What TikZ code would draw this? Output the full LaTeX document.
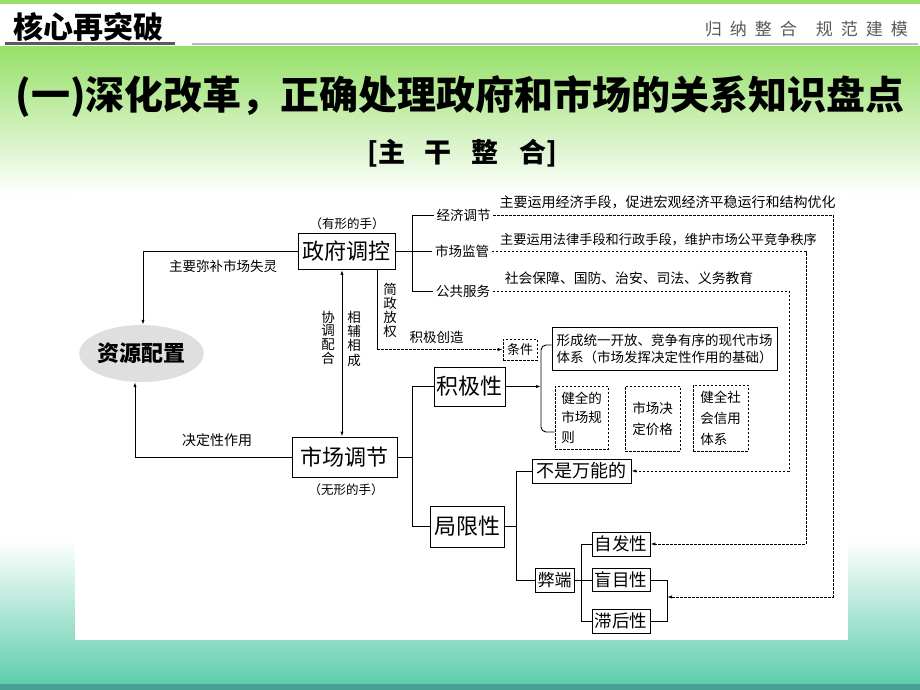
\documentclass[tikz,border=0pt]{standalone}
\usepackage{fontspec}
\setmainfont{Noto Sans CJK SC}
\usetikzlibrary{arrows.meta,shapes.geometric,calc}
\newcommand{\myfs}[2]{\fontsize{#1}{#2}\selectfont}
\definecolor{topgreen}{RGB}{150,224,105}
\definecolor{botteal}{RGB}{95,205,172}
\definecolor{darkteal}{RGB}{70,160,150}
\definecolor{hdrgray}{RGB}{90,90,90}
\begin{document}
\begin{tikzpicture}[x=1pt,y=-1pt,
  sbox/.style={draw=black, line width=0.9pt, inner sep=0pt, align=center, fill=white},
  dbox/.style={draw=black, line width=0.8pt, dash pattern=on 2.5pt off 1.5pt, inner sep=0pt, align=left},
  lbl/.style={inner sep=0pt, font=\myfs{13.5}{14}},
  ln/.style={line width=0.9pt},
  dln/.style={line width=0.8pt, dash pattern=on 2.5pt off 1.5pt},
  arr/.style={-{Latex[length=5pt,width=3.2pt]}},
  arrb/.style={{Latex[length=5pt,width=3.2pt]}-{Latex[length=5pt,width=3.2pt]}}]
\useasboundingbox (0,0) rectangle (920,690);
% background
\fill[white] (0,0) rectangle (920,690);
\shade[top color=topgreen, middle color=topgreen!45, bottom color=white] (0,47) rectangle (920,195);
\shade[top color=white, bottom color=botteal] (0,540) rectangle (920,684);
\fill[topgreen] (0,0) rectangle (920,4);
\fill[darkteal] (0,684) rectangle (920,690);
\fill[white] (75,190) rectangle (848,640);
% header
\node[anchor=west, inner sep=0pt, font=\bfseries\myfs{30}{30}] (hdr) at (13,27) {核心再突破};
\draw[line width=3pt, hdrgray] (5,44) -- (175,44);
\draw[line width=2pt, gray!55] (192,44) -- (918,44);
\node[anchor=east, inner sep=0pt, text=hdrgray, font=\myfs{17}{17}] (sub) at (908,29) {归\hspace{8pt}纳\hspace{8pt}整\hspace{8pt}合\hspace{19pt}规\hspace{8pt}范\hspace{8pt}建\hspace{8pt}模};
\node[inner sep=0pt, font=\bfseries\myfs{39}{39}] (title) at (460,97) {(一)深化改革，正确处理政府和市场的关系知识盘点};
\node[inner sep=0pt, font=\bfseries\myfs{27}{27}] (zgzh) at (462,153) {[主\hspace{20pt}干\hspace{20pt}整\hspace{20pt}合]};
% nodes
\node[ellipse, fill=gray!25, minimum width=121pt, minimum height=57pt, inner sep=0pt, font=\bfseries\myfs{22}{22}] (res) at (141.5,353.5) {资源配置};
\node[sbox, minimum width=97pt, minimum height=36pt, font=\myfs{22}{22}] (gov) at (346.5,251.5) {政府调控};
\node[lbl, font=\myfs{12.5}{13}] (govh) at (347,224) {（有形的手）};
\node[sbox, minimum width=105pt, minimum height=40pt, font=\myfs{22}{22}] (mkt) at (344.5,457) {市场调节};
\node[lbl, font=\myfs{12.5}{13}] (mkth) at (346,490) {（无形的手）};
\node[lbl] (l1) at (223,266) {主要弥补市场失灵};
\node[lbl, font=\myfs{14}{14}] (l2) at (217,440) {决定性作用};
\node[lbl, align=center, font=\myfs{13.5}{13.7}] (xt) at (328,337.5) {协\\调\\配\\合};
\node[lbl, align=center, font=\myfs{13.5}{14.3}] (xf) at (354,338.5) {相\\辅\\相\\成};
\node[lbl, align=center, font=\myfs{13.5}{14}] (jz) at (390,310) {简\\政\\放\\权};
\node[lbl] (jjcz) at (436.5,337) {积极创造};
\node[dbox, minimum width=34pt, minimum height=21pt, font=\myfs{13}{13}] (cond) at (520,349.5) {条件};
\node[lbl, inner sep=2.5pt] (jjtj) at (463.5,215) {经济调节};
\node[lbl, inner sep=2.5pt] (scjg) at (462,251.5) {市场监管};
\node[lbl, inner sep=2.5pt] (ggfw) at (463,291) {公共服务};
\node[lbl, font=\myfs{14}{14}] (t1) at (667.5,202) {主要运用经济手段，促进宏观经济平稳运行和结构优化};
\node[lbl, font=\myfs{13.2}{14}] (t2) at (658.5,240) {主要运用法律手段和行政手段，维护市场公平竞争秩序};
\node[lbl, font=\myfs{13.8}{14}] (t3) at (629,278) {社会保障、国防、治安、司法、义务教育};
\node[sbox, minimum width=71pt, minimum height=39pt, font=\myfs{22}{22}] (jjx) at (469.5,386.5) {积极性};
\node[sbox, minimum width=74pt, minimum height=41pt, font=\myfs{22}{22}] (jxx) at (467,526.5) {局限性};
\node[sbox, minimum width=225pt, minimum height=43pt, font=\myfs{13.5}{17}] (big) at (664.5,348.5) {形成统一开放、竞争有序的现代市场\\体系（市场发挥决定性作用的基础）};
\node[dbox, minimum width=53pt, minimum height=63pt, font=\myfs{13.5}{19.5}] (rule) at (581.5,417.5) {健全的\\市场规\\则};
\node[dbox, minimum width=55pt, minimum height=65pt, font=\myfs{13.5}{21}] (price) at (652.5,418.5) {市场决\\定价格};
\node[dbox, minimum width=55pt, minimum height=66pt, font=\myfs{13.5}{21}] (credit) at (720.5,418) {健全社\\会信用\\体系};
\node[sbox, minimum width=99pt, minimum height=24pt, font=\myfs{18}{18}] (bnwn) at (581.5,471) {不是万能的};
\node[sbox, minimum width=39pt, minimum height=24pt, font=\myfs{17}{17}] (bd) at (554.5,580) {弊端};
\node[sbox, minimum width=58pt, minimum height=24pt, font=\myfs{17.5}{17.5}] (zfx) at (621,544) {自发性};
\node[sbox, minimum width=58pt, minimum height=23pt, font=\myfs{17.5}{17.5}] (mmx) at (621,580) {盲目性};
\node[sbox, minimum width=58pt, minimum height=24pt, font=\myfs{17.5}{17.5}] (zhx) at (621,621) {滞后性};
% coordinates
\coordinate (gbr) at (412,0);
\coordinate (jzx) at (377,0);
\coordinate (dbl) at (342,0);
\coordinate (mbr) at (412,0);
\coordinate (kbr) at (541,0);
\coordinate (lbr) at (516,0);
\coordinate (bbr) at (581,0);
\coordinate (rbr) at (667,0);
\coordinate (d1) at (833,0);
\coordinate (d2) at (806,0);
\coordinate (d3) at (789,0);
\coordinate (bkmid) at (667,597);
% connectors
\draw[ln,arr] (gov.west) -| ([xshift=1.5pt]res.north);
\draw[ln,arr] (mkt.west) -| ([xshift=-6.5pt]res.south);
\draw[ln,arrb] (gov.south -| dbl) -- (mkt.north -| dbl);
\draw[ln] (gov.south -| jzx) -- (jzx |- cond.west);
\draw[dln,arr] (jzx |- cond.west) -- (cond.west);
\draw[ln] (gov.east) -- (scjg.west);
\draw[ln] (jjtj.west) -| (gbr |- ggfw.west) -- (ggfw.west);
\draw[dln,arr] (jjtj.east) -| (d1 |- bkmid) -- (bkmid);
\draw[dln,arr] (scjg.east) -| (d2 |- zfx.east) -- (zfx.east);
\draw[dln,arr] (ggfw.east) -| (d3 |- bnwn.east) -- (bnwn.east);
\draw[ln] (mkt.east) -- (mkt.east -| mbr);
\draw[ln] (jjx.west) -| (mbr |- jxx.west) -- (jxx.west);
\draw[ln,arr] (jjx.east) -- (jjx.east -| kbr);
\draw[ln,rounded corners=5pt] ($(big.west)+(0,-3.5)$) -| ($(kbr |- rule.west)+(0,14.5)$) -- ($(rule.west)+(0,14.5)$);
\draw[ln] (jxx.east) -- (jxx.east -| lbr);
\draw[ln] (bnwn.west) -| (lbr |- bd.west) -- (bd.west);
\draw[ln] (bd.east) -- (mmx.west);
\draw[ln] (zfx.west) -| (bbr |- zhx.west) -- (zhx.west);
\draw[ln] (mmx.east) -| (rbr |- zhx.east) -- (zhx.east);
\end{tikzpicture}
\end{document}
